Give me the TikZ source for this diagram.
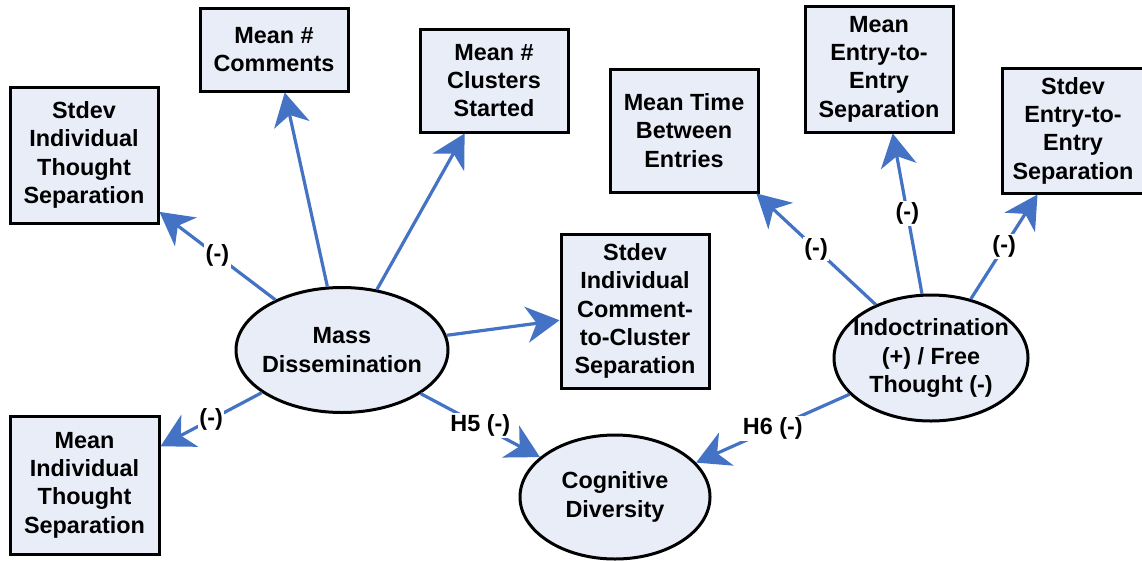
\documentclass[tikz,border=0pt]{standalone}
\usepackage{fontspec}
\setmainfont{Liberation Sans}
\usetikzlibrary{arrows.meta,shapes.geometric}
\definecolor{linkblue}{RGB}{68,114,196}
\definecolor{boxfill}{RGB}{232,237,247}
\begin{document}
\begin{tikzpicture}[x=1pt,y=-1pt,
  every node/.style={font=\fontsize{23.4}{28.3}\selectfont\bfseries, align=center, inner sep=0pt},
  measure/.style={draw=black, line width=3pt, fill=boxfill, rectangle},
  construct/.style={draw=black, line width=3pt, fill=boxfill, ellipse, inner xsep=-16pt},
  link/.style={draw=linkblue, line width=3.2pt, -{Stealth[length=33pt,width=36pt,inset=10pt]}},
  sign/.style={fill=white, inner sep=1.5pt, midway}
]
\useasboundingbox (0,0) rectangle (1142,560);

% measured indicators
\node[measure, minimum width=148pt, minimum height=136pt] (sits) at (84,155) {Stdev\\Individual\\Thought\\Separation};
\node[measure, minimum width=148pt, minimum height=83pt] (mnc) at (274,49.5) {Mean \#\\Comments};
\node[measure, minimum width=148pt, minimum height=103pt] (mcs) at (494,80.5) {Mean \#\\Clusters\\Started};
\node[measure, minimum width=148pt, minimum height=123pt] (mtbe) at (684,130.5) {Mean Time\\Between\\Entries};
\node[measure, minimum width=148pt, minimum height=154pt] (sicc) at (635,311) {Stdev\\Individual\\Comment-\\to-Cluster\\Separation};
\node[measure, minimum width=148pt, minimum height=126pt] (mee) at (879,69) {Mean\\Entry-to-\\Entry\\Separation};
\node[measure, minimum width=142pt, minimum height=125pt] (see) at (1073,130.5) {Stdev\\Entry-to-\\Entry\\Separation};
\node[measure, minimum width=149pt, minimum height=138pt] (mits) at (84.5,485) {Mean\\Individual\\Thought\\Separation};

% latent constructs
\node[construct, minimum width=212pt, minimum height=125pt] (md) at (342,350) {Mass\\Dissemination};
\node[construct, minimum width=194pt, minimum height=126pt] (ind) at (931,358) {Indoctrination\\(+) / Free\\Thought (-)};
\node[construct, minimum width=190pt, minimum height=124pt] (cd) at (615,497) {Cognitive\\Diversity};

% paths from Mass Dissemination
\draw[link] (md.143) -- node[sign] {(-)} (sits.-37);
\draw[link] (md.103) -- (mnc.-76);
\draw[link] (md.60) -- (mcs.241);
\draw[link] (md.8) -- (sicc.187);
\draw[link] (md.208) -- node[sign] {(-)} (mits.27);
\draw[link] (md.-29) -- node[sign] {H5 (-)} (cd.152);

% paths from Indoctrination / Free Thought
\draw[link] (ind.136) -- node[sign] {(-)} (mtbe.-41);
\draw[link] (ind.98) -- node[sign] {(-)} (mee.-78);
\draw[link] (ind.56) -- node[sign] {(-)} (see.241);
\draw[link] (ind.204) -- node[sign] {H6 (-)} (cd.23);
\end{tikzpicture}
\end{document}
